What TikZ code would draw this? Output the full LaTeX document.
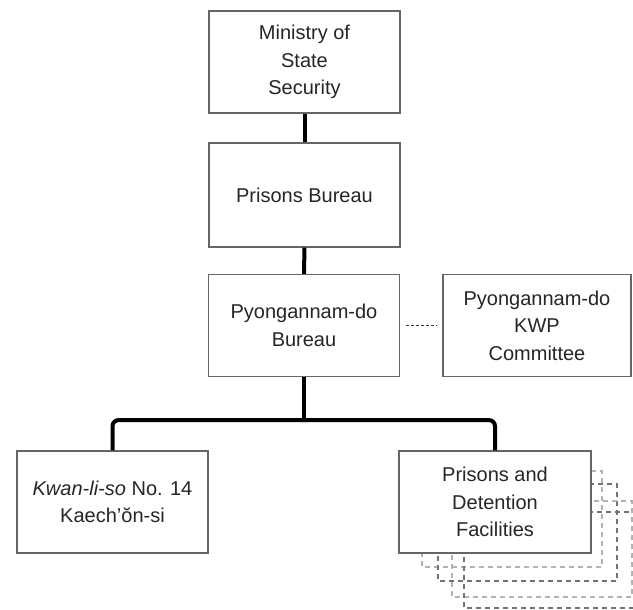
\documentclass[tikz,border=0pt]{standalone}
\usepackage{fontspec}
\setmainfont{Liberation Sans}

\begin{document}
\begin{tikzpicture}[x=0.5pt, y=-0.5pt,
        unit/.style={draw=black!60, line width=0.6pt, fill=white, text=black!85,
            align=center, inner sep=0pt, minimum width=95.5pt, minimum height=51pt,
            font=\fontsize{10}{13.75}\selectfont},
        link/.style={line width=2pt},
        ghost/.style={line width=0.6pt, dash pattern=on 2.5pt off 2pt}]
    \useasboundingbox (0, 0) rectangle (633, 610);
    % copies stacked behind the facilities box
    \draw[ghost, black!30] (422, 471) rectangle (602, 567);
    \draw[ghost, black!55] (438, 484) rectangle (617, 581);
    \draw[ghost, black!30] (452, 501) rectangle (632, 597);
    \draw[ghost, black!55] (464, 512) rectangle (644, 608);

    \node[unit] (mss) at (304.5, 62) {Ministry of\\State\\Security};
    \node[unit, minimum height=52pt] (bureau) at (304.5, 195) {Prisons Bureau};
    \node[unit] (provincial) at (304, 325.5) {Pyongannam-do\\Bureau};
    \node[unit, minimum width=94pt] (kwp) at (537, 325.5) {Pyongannam-do\\KWP\\Committee};
    \node[unit] (camp) at (112.5, 502) {\textit{Kwan-li-so} No. 14\\Kaech'ŏn-si};
    \node[unit, minimum width=96pt] (prisons) at (495, 502) {Prisons and\\Detention\\Facilities};

    \draw[link] (mss) -- (bureau);
    \draw[link] (bureau) -- (provincial);
    \draw[black!80, line width=0.8pt, dash pattern=on 1.5pt off 1pt]
        ([xshift=3pt]provincial.east) -- ([xshift=-2.5pt]kwp.west);
    \draw[link] (provincial.south) -- ++(0, 43) coordinate (split);
    \draw[link, rounded corners=3pt] (split) -| (camp.north);
    \draw[link, rounded corners=3pt] (split) -| (prisons.north);
\end{tikzpicture}
\end{document}
